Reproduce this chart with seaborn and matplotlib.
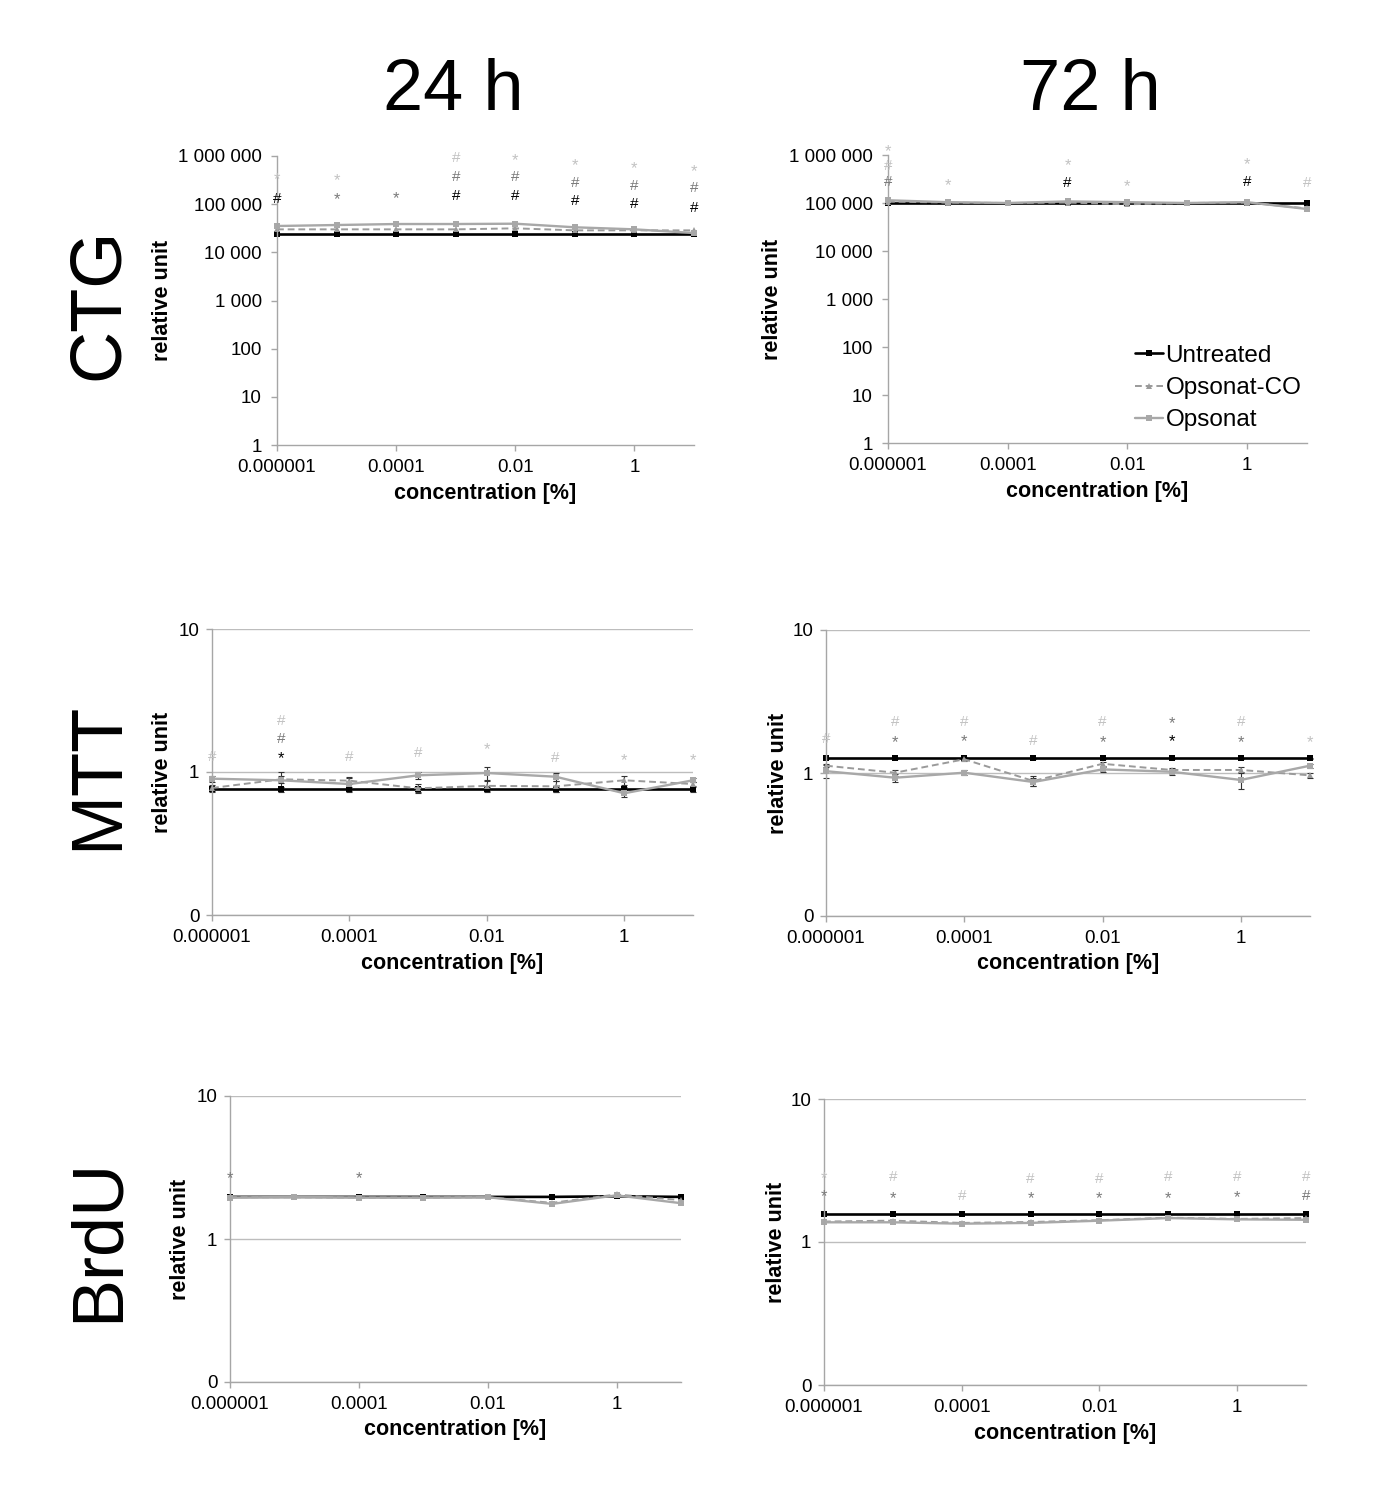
import numpy as np
import pandas as pd
import matplotlib
matplotlib.use("Agg")
import matplotlib.pyplot as plt
import seaborn as sns

sns.set_style("white")
plt.rcParams['font.family'] = ['Liberation Sans', 'DejaVu Sans']
plt.rcParams['text.color'] = 'black'
plt.rcParams['axes.labelcolor'] = 'black'
plt.rcParams['xtick.color'] = 'black'
plt.rcParams['ytick.color'] = 'black'

# concentrations [%]
conc = [1e-6, 1e-5, 1e-4, 1e-3, 1e-2, 1e-1, 1, 10]
groups = ['Untreated', 'Opsonat-CO', 'Opsonat']

# CTG
ctg24_untreated = [24500, 24500, 24500, 24500, 24500, 24500, 24500, 24500]
ctg24_co = [30000, 30000, 30000, 30000, 31500, 28600, 28600, 28600]
ctg24_ops = [35200, 36900, 38700, 38700, 39300, 33100, 30000, 25200]

ctg72_untreated = [100000, 100000, 100000, 100000, 100000, 100000, 100000, 100000]
ctg72_co = [107000, 102000, 100000, 102000, 94000, 100000, 102000, 77000]
ctg72_ops = [114000, 104000, 100000, 108000, 104000, 100000, 104000, 75000]

# MTT
mtt24_untreated = [0.757, 0.757, 0.757, 0.757, 0.757, 0.757, 0.757, 0.757]
mtt24_co = [0.773, 0.889, 0.87, 0.769, 0.80, 0.794, 0.875, 0.824]
mtt24_ops = [0.898, 0.875, 0.824, 0.948, 0.984, 0.927, 0.71, 0.875]
mtt24_err_untreated = [0.03, 0.03, 0.03, 0.03, 0.03, 0.03, 0.03, 0.03]
mtt24_err_co = [0.04, 0.05, 0.05, 0.06, 0.06, 0.07, 0.07, 0.03]
mtt24_err_ops = [0.04, 0.12, 0.09, 0.06, 0.10, 0.06, 0.04, 0.03]

mtt72_untreated = [1.267, 1.267, 1.267, 1.267, 1.267, 1.267, 1.267, 1.267]
mtt72_co = [1.125, 1.005, 1.247, 0.879, 1.16, 1.05, 1.05, 0.963]
mtt72_ops = [1.03, 0.927, 1.005, 0.865, 1.06, 1.02, 0.894, 1.125]
mtt72_err_untreated = [0.01, 0.01, 0.01, 0.01, 0.01, 0.01, 0.01, 0.01]
mtt72_err_co = [0.03, 0.05, 0.04, 0.07, 0.04, 0.04, 0.05, 0.04]
mtt72_err_ops = [0.10, 0.06, 0.04, 0.06, 0.04, 0.05, 0.12, 0.04]

# BrdU
brdu24_untreated = [1.97, 1.97, 1.97, 1.97, 1.97, 1.97, 1.99, 1.97]
brdu24_co = [1.96, 1.96, 1.95, 1.95, 1.96, 1.79, 2.05, 1.87]
brdu24_ops = [1.95, 1.97, 1.95, 1.95, 1.96, 1.76, 2.02, 1.78]

brdu72_untreated = [1.56, 1.56, 1.56, 1.56, 1.56, 1.56, 1.56, 1.56]
brdu72_co = [1.39, 1.41, 1.36, 1.38, 1.42, 1.48, 1.45, 1.47]
brdu72_ops = [1.373, 1.373, 1.343, 1.36, 1.409, 1.47, 1.44, 1.43]

# significance marks: (point index, y value, symbol, colour key)
ctg24_marks = [(0, 4.2e5, '*', 'l'), (0, 1.4e5, '#', 'k'),
               (1, 4.0e5, '*', 'l'), (1, 1.6e5, '*', 'm'),
               (2, 1.7e5, '*', 'm'),
               (3, 9.5e5, '#', 'l'), (3, 3.85e5, '#', 'm'), (3, 1.55e5, '#', 'k'),
               (4, 1.05e6, '*', 'l'), (4, 3.85e5, '#', 'm'), (4, 1.55e5, '#', 'k'),
               (5, 8.3e5, '*', 'l'), (5, 3.0e5, '#', 'm'), (5, 1.22e5, '#', 'k'),
               (6, 7.1e5, '*', 'l'), (6, 2.6e5, '#', 'm'), (6, 1.06e5, '#', 'k'),
               (7, 6.2e5, '*', 'l'), (7, 2.27e5, '#', 'm'), (7, 9.1e4, '#', 'k')]
ctg72_marks = [(0, 1.55e6, '*', 'l'), (0, 6.3e5, '#', 'l'), (0, 2.9e5, '#', 'm'),
               (1, 3.0e5, '*', 'l'),
               (3, 7.9e5, '*', 'l'), (3, 2.8e5, '#', 'k'),
               (4, 2.9e5, '*', 'l'),
               (6, 8.3e5, '*', 'l'), (6, 2.9e5, '#', 'k'),
               (7, 2.8e5, '#', 'l')]
mtt24_marks = [(0, 1.31, '#', 'l'),
               (1, 2.34, '#', 'l'), (1, 1.74, '#', 'm'), (1, 1.35, '*', 'k'),
               (2, 1.31, '#', 'l'),
               (3, 1.39, '#', 'l'),
               (4, 1.56, '*', 'l'),
               (5, 1.29, '#', 'l'),
               (6, 1.31, '*', 'l'),
               (7, 1.32, '*', 'l')]
mtt72_marks = [(0, 1.78, '#', 'l'),
               (1, 2.32, '#', 'l'), (1, 1.78, '*', 'm'),
               (2, 2.32, '#', 'l'), (2, 1.80, '*', 'm'),
               (3, 1.72, '#', 'l'),
               (4, 2.32, '#', 'l'), (4, 1.78, '*', 'm'),
               (5, 2.44, '*', 'm'), (5, 1.80, '*', 'k'),
               (6, 2.32, '#', 'l'), (6, 1.78, '*', 'm'),
               (7, 1.78, '*', 'l')]
brdu24_marks = [(0, 2.91, '*', 'm'), (2, 2.88, '*', 'm')]
brdu72_marks = [(0, 3.05, '*', 'l'), (0, 2.27, '*', 'm'),
                (1, 2.91, '#', 'l'), (1, 2.21, '*', 'm'),
                (2, 2.13, '#', 'l'),
                (3, 2.83, '#', 'l'), (3, 2.19, '*', 'm'),
                (4, 2.83, '#', 'l'), (4, 2.19, '*', 'm'),
                (5, 2.91, '#', 'l'), (5, 2.21, '*', 'm'),
                (6, 2.91, '#', 'l'), (6, 2.24, '*', 'm'),
                (7, 2.91, '#', 'l'), (7, 2.13, '#', 'm')]

xticks = [1e-6, 1e-4, 1e-2, 1]
xtick_labels = ['0.000001', '0.0001', '0.01', '1']
ctg_yticks = [1, 10, 100, 1e3, 1e4, 1e5, 1e6]
ctg_ylabels = ['1', '10', '100', '1 000', '10 000', '100 000', '1 000 000']
rel_yticks = [0.1, 1, 10]
rel_ylabels = ['0', '1', '10']

palette = {'Untreated': '#000000', 'Opsonat-CO': '#9a9a9a', 'Opsonat': '#a8a8a8'}
markers = {'Untreated': 's', 'Opsonat-CO': '^', 'Opsonat': 's'}
dashes = {'Untreated': '', 'Opsonat-CO': (3.5, 2), 'Opsonat': ''}
sizes = {'Untreated': 1.9, 'Opsonat-CO': 1.4, 'Opsonat': 1.7}
mark_colors = {'l': '#c2c2c2', 'm': '#7a7a7a', 'k': '#000000'}
spine_col = '#a6a6a6'

W, H = 1387, 1507
fig = plt.figure(figsize=(W / 100, H / 100), dpi=100)


def px_axes(left, right, top, bottom):
    return fig.add_axes([left / W, 1 - bottom / H, (right - left) / W, (bottom - top) / H])


def panel(box, series, errs, marks, kind, ylab_off, legend=False):
    left, right, top, bottom = box
    ax = px_axes(left, right, top, bottom)
    ax.set_xscale('log')
    ax.set_yscale('log')
    df = pd.DataFrame({
        'conc': conc * 3,
        'value': series[0] + series[1] + series[2],
        'group': sum([[g] * len(conc) for g in groups], []),
    })
    if errs is not None:
        for vals, e, g in zip(series, errs, groups):
            ax.errorbar(conc, vals, yerr=e, fmt='none', ecolor='#333333',
                        elinewidth=0.8, capsize=2.2, capthick=0.8, zorder=1)
    sns.lineplot(data=df, x='conc', y='value', hue='group', style='group', size='group',
                 hue_order=groups, style_order=groups, size_order=groups,
                 palette=palette, markers=markers, dashes=dashes, sizes=sizes,
                 markersize=5, markeredgewidth=0, errorbar=None, legend=legend, ax=ax)
    for ln in ax.lines:
        ln.set_clip_on(False)

    for i, yv, sym, c in marks:
        dy = -4 if sym == '*' else -1
        ax.annotate(sym, (conc[i], yv), xytext=(0, dy), textcoords='offset points',
                    ha='center', va='center', fontsize=12 if sym == '*' else 11,
                    color=mark_colors[c], annotation_clip=False)

    ax.set_xlim(1e-6, 10)
    if kind == 'ctg':
        ax.set_ylim(1, 1e6)
        ax.set_yticks(ctg_yticks, ctg_ylabels)
        ypad = 7
    else:
        ax.set_ylim(0.1, 10)
        ax.set_yticks(rel_yticks, rel_ylabels)
        ax.yaxis.grid(True, color='#bdbdbd', linewidth=1)
        ypad = 5
    ax.set_xticks(xticks, xtick_labels)
    ax.minorticks_off()

    sns.despine(ax=ax)
    for s in ['left', 'bottom']:
        ax.spines[s].set_color(spine_col)
        ax.spines[s].set_linewidth(1)
    ax.tick_params(axis='both', bottom=True, left=True, direction='out', length=4,
                   width=1, color=spine_col, labelsize=13.5, labelcolor='black')
    ax.tick_params(axis='y', pad=ypad)
    ax.tick_params(axis='x', pad=6)

    ax.set_xlabel('concentration [%]', fontsize=15.5, fontweight='bold')
    ax.set_ylabel('relative unit', fontsize=15.5, fontweight='bold')
    ax.xaxis.label.set_va('center')
    ax.yaxis.label.set_va('center')
    ax.xaxis.set_label_coords(0.5, -48 / (bottom - top))
    ax.yaxis.set_label_coords(-ylab_off / (right - left), 0.5)

    if legend:
        h, l = ax.get_legend_handles_labels()
        ax.legend(h, l, loc='center left', bbox_to_anchor=(1135 / W, 1 - 388 / H),
                  bbox_transform=fig.transFigure, frameon=False, fontsize=17.5,
                  handlelength=1.15, handletextpad=0.1, labelspacing=0.42,
                  borderpad=0, borderaxespad=0)
    return ax


panel((277, 694, 156, 445), [ctg24_untreated, ctg24_co, ctg24_ops], None, ctg24_marks, 'ctg', 114)
panel((888, 1307, 155, 443), [ctg72_untreated, ctg72_co, ctg72_ops], None, ctg72_marks, 'ctg', 115,
      legend=True)
panel((212, 693, 629, 915), [mtt24_untreated, mtt24_co, mtt24_ops],
      [mtt24_err_untreated, mtt24_err_co, mtt24_err_ops], mtt24_marks, 'rel', 49)
panel((826, 1310, 630, 916), [mtt72_untreated, mtt72_co, mtt72_ops],
      [mtt72_err_untreated, mtt72_err_co, mtt72_err_ops], mtt72_marks, 'rel', 48)
panel((230, 681, 1096, 1382), [brdu24_untreated, brdu24_co, brdu24_ops], None, brdu24_marks, 'rel', 49)
panel((824, 1306, 1099, 1385), [brdu72_untreated, brdu72_co, brdu72_ops], None, brdu72_marks, 'rel', 48)

# column and row titles
fig.text(453 / W, 1 - 92 / H, '24 h', fontsize=52, ha='center', va='center', color='black')
fig.text(1090 / W, 1 - 92 / H, '72 h', fontsize=52, ha='center', va='center', color='black')
for name, yc in [('CTG', 304), ('MTT', 776), ('BrdU', 1240)]:
    fig.text(99 / W, 1 - yc / H, name, fontsize=52, rotation=90, ha='center', va='center',
             color='black')

fig.savefig('out.png', dpi=100)
